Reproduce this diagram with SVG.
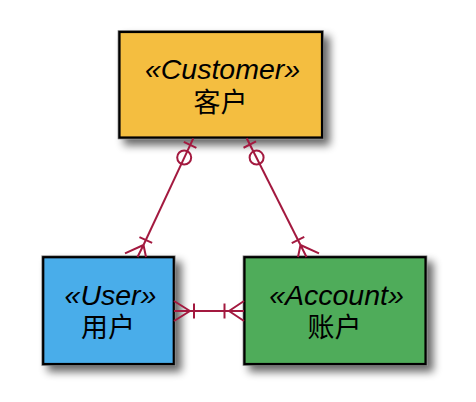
<svg xmlns="http://www.w3.org/2000/svg" width="476" height="402" viewBox="0 0 476 402">
  <defs>
    <filter id="shadow" x="-20%" y="-20%" width="150%" height="150%">
      <feGaussianBlur in="SourceAlpha" stdDeviation="4"/>
      <feOffset dx="6" dy="6" result="b"/>
      <feComponentTransfer><feFuncA type="linear" slope="0.6"/></feComponentTransfer>
      <feMerge><feMergeNode/><feMergeNode in="SourceGraphic"/></feMerge>
    </filter>
    <style>
      .box { stroke: #000; stroke-width: 2.2; }
      .edge { stroke: #777; stroke-width: 3.6; fill: none; }
      .st { font-family: "Liberation Sans", Arial, sans-serif; font-style: italic; font-size: 28.5px; fill: #000; text-anchor: middle; }
      .cn { font-family: "Liberation Sans", "Noto Sans CJK SC", sans-serif; font-size: 27px; fill: #000; text-anchor: middle; }
      .c { stroke: #A3193F; stroke-width: 2; fill: none; stroke-linecap: butt; }
    </style>
  </defs>

  <g id="customer">
    <g filter="url(#shadow)">
      <rect class="edge" x="119.5" y="32" width="202.5" height="105.5"/>
      <rect class="box" x="119.5" y="32" width="202.5" height="105.5" fill="#F4BE41"/>
    </g>
    <text class="st" x="222.5" y="79">«Customer»</text>
    <text class="cn" x="220.5" y="111.5">客户</text>
  </g>

  <g id="user">
    <g filter="url(#shadow)">
      <rect class="edge" x="43.25" y="257.25" width="130.5" height="106.75"/>
      <rect class="box" x="43.25" y="257.25" width="130.5" height="106.75" fill="#4AADEA"/>
    </g>
    <text class="st" x="110.5" y="305">«User»</text>
    <text class="cn" x="108" y="337">用户</text>
  </g>

  <g id="account">
    <g filter="url(#shadow)">
      <rect class="edge" x="244.5" y="257.25" width="181" height="106.75"/>
      <rect class="box" x="244.5" y="257.25" width="181" height="106.75" fill="#50AC5A"/>
    </g>
    <text class="st" x="336.5" y="305">«Account»</text>
    <text class="cn" x="334.5" y="337">账户</text>
  </g>

  <g id="connectors">
    <!-- Customer to User -->
    <path class="c" d="M193.3,138.3 L143.5,245"/>
    <path class="c" d="M183.8,141.8 L196.4,147.8"/>
    <circle class="c" cx="184.2" cy="157.5" r="7"/>
    <path class="c" d="M139.45,237.05 L152.15,242.95"/>
    <path class="c" d="M143.5,245 L125,253.3 M143.5,245 L137.5,257 M143.5,245 L146,257"/>

    <!-- Customer to Account -->
    <path class="c" d="M246.7,138.3 L300.5,245"/>
    <path class="c" d="M243.55,147.74 L256.05,141.46"/>
    <circle class="c" cx="256.6" cy="157.6" r="7"/>
    <path class="c" d="M291.75,243.14 L304.25,236.86"/>
    <path class="c" d="M300.5,245 L319,253.3 M300.5,245 L306.5,257 M300.5,245 L298,257"/>

    <!-- User to Account -->
    <path class="c" d="M174,311 L244,311"/>
    <path class="c" d="M190,311 L174,301 M190,311 L174,321"/>
    <path class="c" d="M194,303.5 L194,318.5"/>
    <path class="c" d="M229,311 L244,301 M229,311 L244,321"/>
    <path class="c" d="M224.5,303.5 L224.5,318.5"/>
  </g>
</svg>
